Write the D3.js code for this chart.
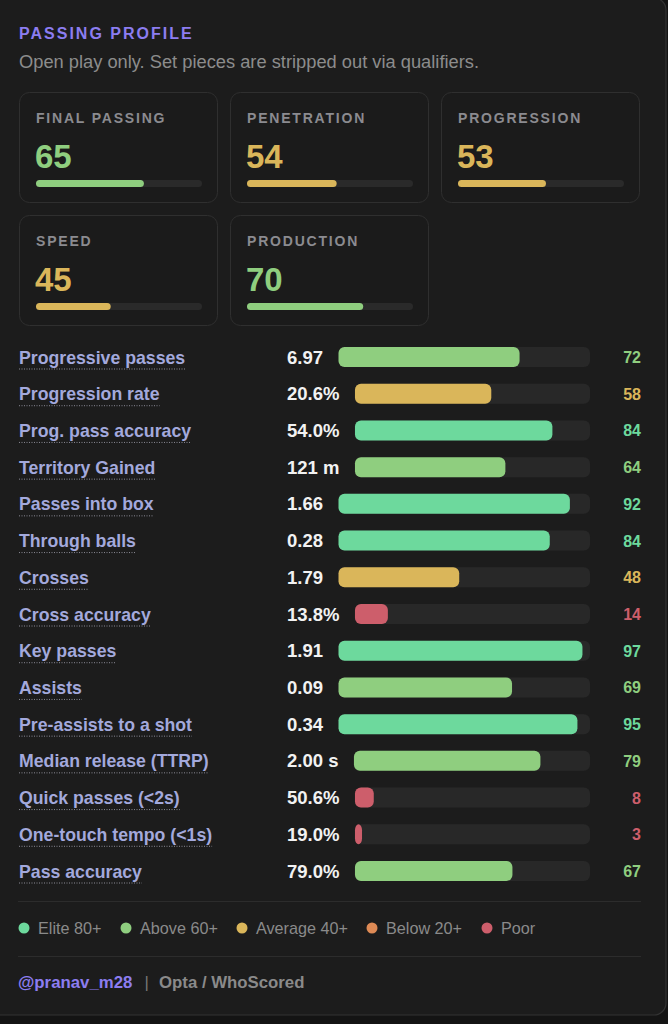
<!DOCTYPE html>
<html>
<head>
<meta charset="utf-8">
<script src="https://cdn.jsdelivr.net/npm/d3@7"></script>
<style>
  body { margin: 0; background: #141414; }
  svg { display: block; }
  text { font-family: "Liberation Sans", Arial, Helvetica, sans-serif; }
</style>
</head>
<body>
<svg id="chart" width="668" height="1024"></svg>
<script>
// summary cards
var cardNames = ["FINAL PASSING", "PENETRATION", "PROGRESSION", "SPEED", "PRODUCTION"];
var cardScores = [65, 54, 53, 45, 70];

// metric rows
var rowLabels = ["Progressive passes", "Progression rate", "Prog. pass accuracy", "Territory Gained",
  "Passes into box", "Through balls", "Crosses", "Cross accuracy", "Key passes", "Assists",
  "Pre-assists to a shot", "Median release (TTRP)", "Quick passes (<2s)", "One-touch tempo (<1s)",
  "Pass accuracy"];
var rowValues = ["6.97", "20.6%", "54.0%", "121 m", "1.66", "0.28", "1.79", "13.8%", "1.91", "0.09",
  "0.34", "2.00 s", "50.6%", "19.0%", "79.0%"];
var rowScores = [72, 58, 84, 64, 92, 84, 48, 14, 97, 69, 95, 79, 8, 3, 67];

// tiers
var tierNames = ["Elite 80+", "Above 60+", "Average 40+", "Below 20+", "Poor"];
var tierColors = ["#6dd99d", "#8fce7f", "#dab65a", "#de8a55", "#cd5e6b"];
var tierCuts = [20, 40, 60, 80];

var color = d3.scaleThreshold()
  .domain(tierCuts)
  .range(tierColors.slice().reverse());

var svg = d3.select("#chart");

// panel
svg.append("rect")
  .attr("x", -20).attr("y", -2)
  .attr("width", 686).attr("height", 1017)
  .attr("rx", 12)
  .attr("fill", "#1c1c1c")
  .attr("stroke", "#333").attr("stroke-width", 1.2);

svg.append("text")
  .attr("x", 19).attr("y", 38.5)
  .attr("fill", "#8c7df0")
  .attr("font-size", 16).attr("font-weight", "bold")
  .attr("letter-spacing", 2)
  .text("PASSING PROFILE");

svg.append("text")
  .attr("x", 19).attr("y", 67.5)
  .attr("fill", "#8c8c8c")
  .attr("font-size", 18.3)
  .text("Open play only. Set pieces are stripped out via qualifiers.");

// cards
var cardW = 198, cardH = 110, gap = 13;
var cards = svg.selectAll("g.card")
  .data(cardNames)
  .join("g")
  .attr("class", "card")
  .attr("transform", function(d, i) {
    return "translate(" + (19 + (i % 3) * (cardW + gap)) + "," + (92 + Math.floor(i / 3) * (cardH + 13)) + ")";
  });

cards.append("rect")
  .attr("x", 0.5).attr("y", 0.5)
  .attr("width", cardW).attr("height", cardH)
  .attr("rx", 10)
  .attr("fill", "#1b1b1b")
  .attr("stroke", "#2f2f2f");

cards.append("text")
  .attr("x", 17).attr("y", 30.5)
  .attr("fill", "#8b8b90")
  .attr("font-size", 14).attr("font-weight", "bold")
  .attr("letter-spacing", 1.8)
  .text(function(d) { return d; });

cards.append("text")
  .attr("x", 16).attr("y", 75.5)
  .attr("fill", function(d, i) { return color(cardScores[i]); })
  .attr("font-size", 33).attr("font-weight", "bold")
  .text(function(d, i) { return cardScores[i]; });

var cardX = d3.scaleLinear().domain([0, 100]).range([0, 166]);

cards.append("rect")
  .attr("x", 17).attr("y", 88)
  .attr("width", cardX(100)).attr("height", 7)
  .attr("rx", 3.5)
  .attr("fill", "#2a2a2a");

cards.append("rect")
  .attr("x", 17).attr("y", 88)
  .attr("width", function(d, i) { return cardX(cardScores[i]); }).attr("height", 7)
  .attr("rx", 3.5)
  .attr("fill", function(d, i) { return color(cardScores[i]); });

// rows
var y = d3.scalePoint().domain(rowLabels).range([357, 871]);
var trackEnd = 590, barH = 20;

var rows = svg.selectAll("g.row")
  .data(rowLabels)
  .join("g")
  .attr("class", "row")
  .attr("transform", function(d) { return "translate(0," + y(d) + ")"; });

rows.append("text")
  .attr("x", 19).attr("y", 6.5)
  .attr("fill", "#a3a9dc")
  .attr("font-size", 17.7).attr("font-weight", "bold")
  .text(function(d) { return d; });

rows.each(function(d, i) {
  var g = d3.select(this);
  var w = g.select("text").node().getComputedTextLength();
  g.append("line")
    .attr("x1", 19).attr("x2", 19 + w)
    .attr("y1", 12).attr("y2", 12)
    .attr("stroke", "#8a8a95").attr("stroke-width", 1)
    .attr("stroke-dasharray", "1,1.5");

  var v = g.append("text")
    .attr("x", 287).attr("y", 6.5)
    .attr("fill", "#f2f2f2")
    .attr("font-size", 18.5).attr("font-weight", "bold")
    .text(rowValues[i]);
  var start = 287 + v.node().getComputedTextLength() + 15.5;

  var x = d3.scaleLinear().domain([0, 100]).range([start, trackEnd]);

  g.append("rect")
    .attr("x", x(0)).attr("y", -barH / 2)
    .attr("width", x(100) - x(0)).attr("height", barH)
    .attr("rx", 6)
    .attr("fill", "#282828");

  g.append("rect")
    .attr("x", x(0)).attr("y", -barH / 2)
    .attr("width", x(rowScores[i]) - x(0)).attr("height", barH)
    .attr("rx", 6)
    .attr("fill", color(rowScores[i]));

  g.append("text")
    .attr("x", 641).attr("y", 6)
    .attr("text-anchor", "end")
    .attr("fill", color(rowScores[i]))
    .attr("font-size", 16).attr("font-weight", "bold")
    .text(rowScores[i]);
});

// dividers
svg.append("line")
  .attr("x1", 18).attr("x2", 641).attr("y1", 901.5).attr("y2", 901.5)
  .attr("stroke", "#2c2c2c");
svg.append("line")
  .attr("x1", 18).attr("x2", 641).attr("y1", 956.5).attr("y2", 956.5)
  .attr("stroke", "#2c2c2c");

// legend
var legendX = [24, 126, 242, 372, 487];
var legend = svg.selectAll("g.legend")
  .data(tierNames)
  .join("g")
  .attr("class", "legend")
  .attr("transform", function(d, i) { return "translate(" + legendX[i] + ",928)"; });

legend.append("circle")
  .attr("r", 5.5)
  .attr("fill", function(d, i) { return tierColors[i]; });

legend.append("text")
  .attr("x", 14).attr("y", 5.8)
  .attr("fill", "#8a8a8a")
  .attr("font-size", 16.2)
  .text(function(d) { return d; });

// footer
svg.append("text")
  .attr("x", 18).attr("y", 988)
  .attr("fill", "#8c7df0")
  .attr("font-size", 16.8).attr("font-weight", "bold")
  .text("@pranav_m28");
svg.append("text")
  .attr("x", 144.5).attr("y", 988)
  .attr("fill", "#777")
  .attr("font-size", 16.8)
  .text("|");
svg.append("text")
  .attr("x", 159).attr("y", 988)
  .attr("fill", "#8a8a8a")
  .attr("font-size", 16.8).attr("font-weight", "bold")
  .text("Opta / WhoScored");
</script>
</body>
</html>
